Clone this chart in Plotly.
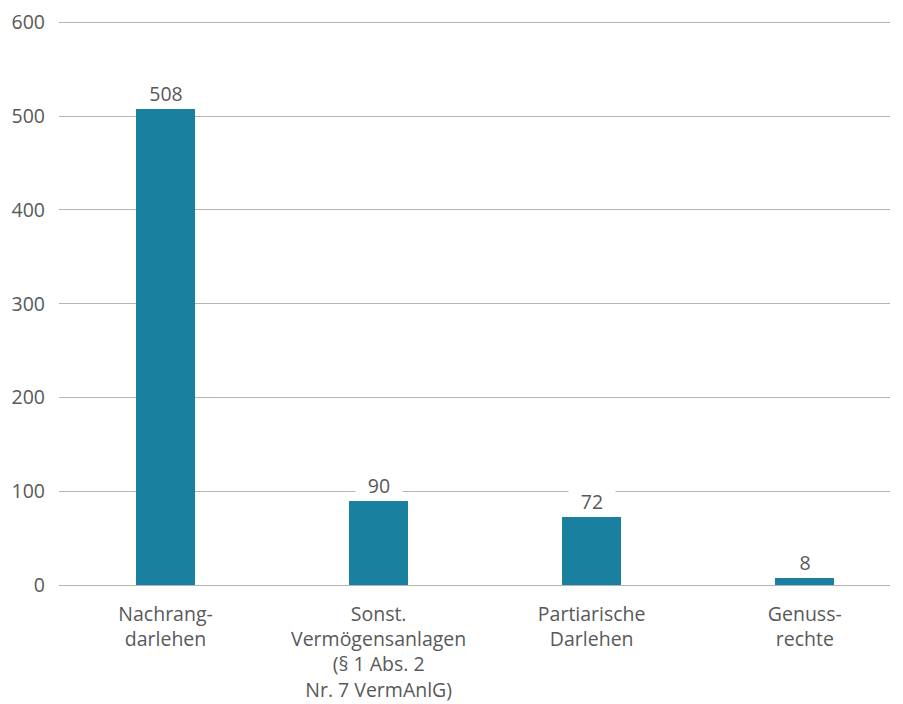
import plotly.graph_objects as go

categories = ["Nachrang-<br>darlehen",
              "Sonst.<br>Vermögensanlagen<br>(§ 1 Abs. 2<br>Nr. 7 VermAnlG)",
              "Partiarische<br>Darlehen",
              "Genuss-<br>rechte"]
values = [508, 90, 72, 8]
y_ticks = [0, 100, 200, 300, 400, 500, 600]

BAR = "#1a809f"
TXT = "#595959"
FONT = "Open Sans, sans-serif"
FS = 19.5

fig = go.Figure()
fig.add_trace(go.Bar(x=list(range(len(categories))), y=values,
                     marker=dict(color=BAR, line=dict(width=0)),
                     width=0.277, hoverinfo="skip"))

for i, v in enumerate(values):
    fig.add_annotation(x=i, y=v, text=str(v), showarrow=False,
                       yanchor="bottom", yshift=1, bgcolor="white",
                       width=46, borderpad=0,
                       font=dict(family=FONT, size=FS, color=TXT))

# page body has an 8px margin, so the figure is sized 895x696
fig.update_layout(
    width=895, height=696,
    margin=dict(l=51, r=13, t=4.6, b=119, autoexpand=False),
    paper_bgcolor="white", plot_bgcolor="white",
    showlegend=False,
    font=dict(family=FONT, size=FS, color=TXT),
    bargap=0,
)
fig.update_xaxes(range=[-0.5, 3.40], tickmode="array",
                 tickvals=list(range(len(categories))), ticktext=categories,
                 showgrid=False, zeroline=False, showline=False, ticks="",
                 automargin=False, ticklabelstandoff=15,
                 tickfont=dict(family=FONT, size=FS, color=TXT))
fig.update_yaxes(range=[0, 610], tickmode="array", tickvals=y_ticks,
                 showgrid=True, gridcolor="#b4b4b4", gridwidth=1.3,
                 zeroline=True, zerolinecolor="#b4b4b4", zerolinewidth=1.3,
                 showline=False, ticks="", ticklabelstandoff=13,
                 automargin=False,
                 tickfont=dict(family=FONT, size=FS, color=TXT))

fig.write_html("out.html")
